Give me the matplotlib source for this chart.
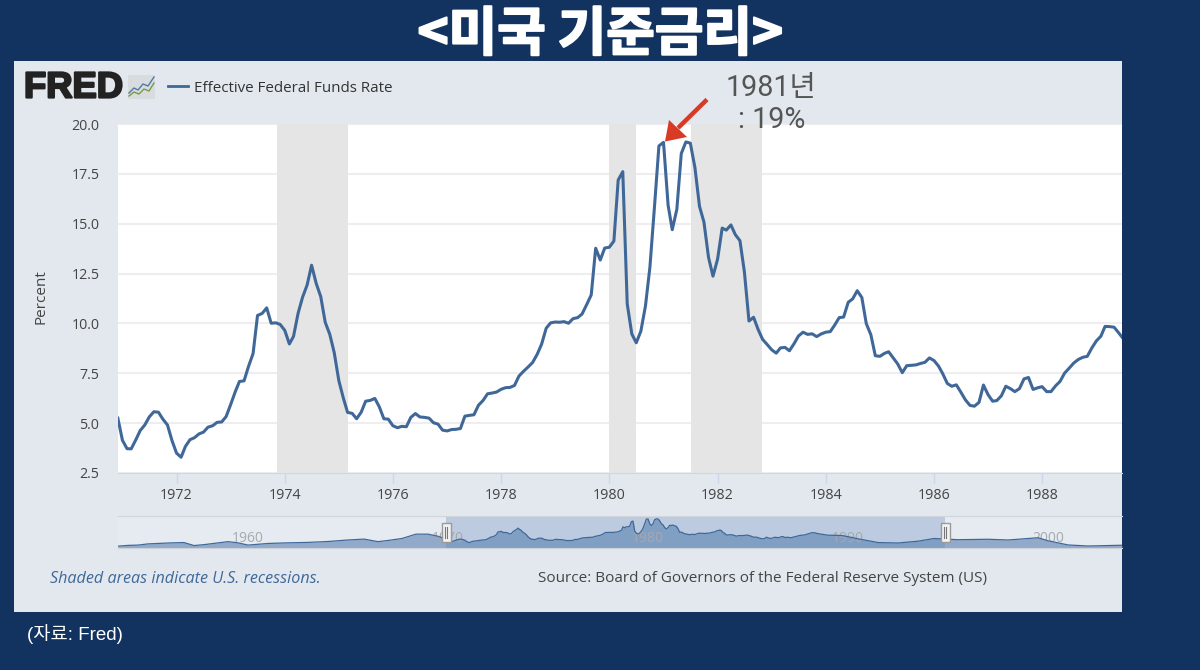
import matplotlib
matplotlib.use('Agg')
import matplotlib.pyplot as plt
import matplotlib.dates as mdates
import matplotlib.patheffects as pe
from matplotlib.patches import Polygon, Rectangle
import pandas as pd

W, H = 1200, 670

# monthly effective rate, Dec 1970 onwards
rate = [5.25,
        4.14, 3.72, 3.71, 4.16, 4.63, 4.91, 5.31, 5.57, 5.55, 5.20, 4.91, 4.14,
        3.50, 3.29, 3.83, 4.17, 4.27, 4.46, 4.55, 4.80, 4.87, 5.04, 5.06, 5.33,
        5.94, 6.58, 7.09, 7.12, 7.84, 8.49, 10.40, 10.50, 10.78, 10.01, 10.03, 9.95,
        9.65, 8.97, 9.35, 10.51, 11.31, 11.93, 12.92, 12.01, 11.34, 10.06, 9.45, 8.53,
        7.13, 6.24, 5.54, 5.49, 5.22, 5.55, 6.10, 6.14, 6.24, 5.82, 5.22, 5.20,
        4.87, 4.77, 4.84, 4.82, 5.29, 5.48, 5.31, 5.29, 5.25, 5.02, 4.95, 4.65,
        4.61, 4.68, 4.69, 4.73, 5.35, 5.39, 5.42, 5.90, 6.14, 6.47, 6.51, 6.56,
        6.70, 6.78, 6.79, 6.89, 7.36, 7.60, 7.81, 8.04, 8.45, 8.96, 9.76, 10.03,
        10.07, 10.06, 10.09, 10.01, 10.24, 10.29, 10.47, 10.94, 11.43, 13.77, 13.18, 13.78,
        13.82, 14.13, 17.19, 17.61, 10.98, 9.47, 9.03, 9.61, 10.87, 12.81, 15.85, 18.90,
        19.08, 15.93, 14.70, 15.72, 18.52, 19.10, 19.04, 17.82, 15.87, 15.08, 13.31, 12.37,
        13.22, 14.78, 14.68, 14.94, 14.45, 14.15, 12.59, 10.12, 10.31, 9.71, 9.20, 8.95,
        8.68, 8.51, 8.77, 8.80, 8.63, 8.98, 9.37, 9.56, 9.45, 9.48, 9.34, 9.47,
        9.56, 9.59, 9.91, 10.29, 10.32, 11.06, 11.23, 11.64, 11.30, 9.99, 9.43, 8.38,
        8.35, 8.50, 8.58, 8.27, 7.97, 7.53, 7.88, 7.90, 7.92, 7.99, 8.05, 8.27,
        8.14, 7.86, 7.48, 6.99, 6.85, 6.92, 6.56, 6.17, 5.89, 5.85, 6.04, 6.91,
        6.43, 6.10, 6.13, 6.37, 6.85, 6.73, 6.58, 6.73, 7.22, 7.29, 6.69, 6.77,
        6.83, 6.58, 6.58, 6.87, 7.09, 7.51, 7.75, 8.01, 8.19, 8.30, 8.35, 8.76,
        9.12, 9.36, 9.85, 9.84, 9.81, 9.53, 9.24]
dates = pd.date_range('1970-12-01', periods=len(rate), freq='MS')

recessions = [('1973-11-10', '1975-03-05'), ('1980-01-01', '1980-07-01'), ('1981-07-08', '1982-10-28')]
y_ticks = [2.5, 5.0, 7.5, 10.0, 12.5, 15.0, 17.5, 20.0]
x_tick_years = [1972, 1974, 1976, 1978, 1980, 1982, 1984, 1986, 1988]

# overview strip: estimates before and after the monthly stretch above
nav_years_before = [1954.5, 1955, 1955.5, 1956, 1957, 1957.8, 1958.3, 1958.8, 1959.5, 1960, 1960.5, 1961, 1962, 1963,
                    1964, 1965, 1966, 1966.8, 1967.5, 1968, 1968.7, 1969.4, 1970, 1970.5]
nav_rate_before = [0.9, 1.4, 1.6, 2.4, 3.0, 3.3, 1.3, 1.9, 3.1, 3.9, 3.1, 1.6, 2.7, 3.1,
                   3.4, 4.0, 5.0, 5.6, 3.9, 4.7, 6.0, 8.9, 8.9, 7.5]
nav_years_after = [1990, 1990.7, 1991.5, 1992.5, 1993.5, 1994.5, 1995.3, 1996.5, 1998, 1999, 2000.5, 2001, 2002, 2003, 2004.7]
nav_rate_after = [8.2, 8.0, 5.8, 3.3, 3.0, 4.2, 6.0, 5.2, 5.5, 5.0, 6.5, 4.5, 1.7, 1.0, 1.5]
nav_labels = [1960, 1970, 1980, 1990, 2000]

BG = '#12335f'
PANEL = '#e2e8ee'
LINE = '#3f6899'
KR = ['Noto Sans CJK KR', 'DejaVu Sans']


def px_axes(fig, left, top, right, bottom, **kw):
    return fig.add_axes([left / W, 1 - bottom / H, (right - left) / W, (bottom - top) / H], **kw)


fig = plt.figure(figsize=(W / 100., H / 100.), dpi=100, facecolor=BG)

# backdrop, pixel coordinates
back = px_axes(fig, 0, 0, W, H)
back.set_xlim(0, W)
back.set_ylim(H, 0)
back.axis('off')
back.add_patch(Rectangle((14, 61), 1108, 551, color=PANEL, lw=0))

# main chart
ax = px_axes(fig, 118, 124, 1122, 473, facecolor='white')
x0 = mdates.num2date(mdates.datestr2num('1972-01-01') - (176.5 - 118) / 54.1 * 365.25)
x1 = mdates.num2date(mdates.datestr2num('1972-01-01') + (1122 - 176.5) / 54.1 * 365.25)
ax.set_xlim(x0, x1)
ax.set_ylim(2.5, 20)
for s in ['top', 'left', 'right']:
    ax.spines[s].set_visible(False)
ax.spines['bottom'].set_color('#ccd6eb')
ax.set_axisbelow(True)
ax.yaxis.grid(True, color='#eeeef1', lw=1.5)
for start, end in recessions:
    ax.axvspan(pd.Timestamp(start), pd.Timestamp(end), color='#e5e5e5', lw=0, zorder=1.5)
ax.plot(dates, rate, color=LINE, lw=2.2, zorder=3)
ax.set_yticks(y_ticks)
ax.set_yticklabels(['%.1f' % v for v in y_ticks])
ax.set_xticks([pd.Timestamp('%d-01-01' % y) for y in x_tick_years])
ax.set_xticklabels([str(y) for y in x_tick_years])
ax.tick_params(axis='y', length=0, pad=13.5, labelsize=10.3, labelcolor='#444444')
ax.tick_params(axis='x', length=7, width=1, color='#ccd6eb', pad=3.5, labelsize=10.3, labelcolor='#444444')
for lab in ax.get_xticklabels() + ax.get_yticklabels():
    lab.set_family('Open Sans')

# overview strip
nav_x = nav_years_before + [d.year + (d.month - 1) / 12. for d in dates] + nav_years_after
nav_y = nav_rate_before + rate + nav_rate_after
nav = px_axes(fig, 118, 516, 1122, 547.5, facecolor='#e6ebf2')
nav.set_xlim(1954.5, 1954.5 + 1004 / 20.)
nav.set_ylim(0, 21)
for s in nav.spines.values():
    s.set_visible(False)
nav.spines['top'].set_visible(True)
nav.spines['top'].set_color('#d2d6da')
nav.spines['bottom'].set_visible(True)
nav.spines['bottom'].set_color('#ccd2da')
nav.set_xticks([])
nav.set_yticks([])
sel0 = 1954.5 + (446 - 118) / 20.
sel1 = 1954.5 + (945 - 118) / 20.
nav.axvspan(sel0, sel1, color='#bccbe0', lw=0, zorder=1)
nav.fill_between(nav_x, nav_y, 0, color='#5b80b0', alpha=0.6, lw=0, zorder=2)
nav.plot(nav_x, nav_y, color=LINE, lw=0.9, zorder=3)
for y in nav_labels:
    nav.text(y + 1, 6.0, str(y), ha='center', va='center', fontsize=10, color='#a6a9ad',
             family='Open Sans', zorder=2.5)

# everything drawn on top, pixel coordinates
top = px_axes(fig, 0, 0, W, H)
top.patch.set_alpha(0)
top.set_xlim(0, W)
top.set_ylim(H, 0)
top.axis('off')

for hx in [446, 945]:
    top.add_patch(Rectangle((hx - 4.5, 523), 9, 19, fc='#f2f2f2', ec='#9a9a9a', lw=1))
    top.plot([hx - 1.2, hx - 1.2], [527, 538], color='#777777', lw=0.8)
    top.plot([hx + 1.2, hx + 1.2], [527, 538], color='#777777', lw=0.8)

top.text(600, 35, '<미국 기준금리>', ha='center', va='center', color='white', fontsize=38,
         fontweight='bold', family=KR, path_effects=[pe.withStroke(linewidth=1.5, foreground='white')])
top.text(24, 88, 'FRED', ha='left', va='center', color='#222222', fontsize=26.2, fontweight='bold',
         family='Liberation Sans', path_effects=[pe.withStroke(linewidth=1.6, foreground='#222222')])

# logo icon
top.add_patch(Rectangle((128, 75), 27, 24, fc='#d9dcdf', ec='none'))
top.plot([129, 134, 138, 143, 148, 154], [93, 88, 90, 84, 86, 77], color='#4f7aa8', lw=1)
top.plot([129, 134, 139, 144, 149, 154], [96, 92, 94, 89, 91, 83], color='#7b9a45', lw=1)

top.plot([168, 188], [86, 86], color=LINE, lw=2)
top.text(194, 88, 'Effective Federal Funds Rate', ha='left', va='center', fontsize=10.9,
         color='#333333', family='Open Sans')
top.text(41, 297, 'Percent', ha='center', va='center', rotation=90, fontsize=11, color='#444444',
         family='Open Sans')
top.text(50, 579, 'Shaded areas indicate U.S. recessions.', ha='left', va='center', fontsize=11.6,
         color='#3f6899', style='italic', family='Open Sans')
top.text(987, 579, 'Source: Board of Governors of the Federal Reserve System (US)', ha='right', va='center',
         fontsize=10.95, color='#444444', family='Open Sans')
top.text(27, 634, '(자료: Fred)', ha='left', va='center', fontsize=13.5, color='white',
         family=['Liberation Sans', 'Noto Sans CJK KR'])

# note and red arrow on the screenshot
top.text(771.5, 88, '1981년', ha='center', va='center', fontsize=20.6, color='#555555',
         family=['Roboto', 'Noto Sans CJK KR'])
top.text(771.5, 120, ': 19%', ha='center', va='center', fontsize=20.6, color='#555555',
         family=['Roboto', 'Noto Sans CJK KR'])
top.add_patch(Polygon([(665, 141.5), (669, 120), (687, 137)], closed=True, fc='#d93a26', ec='none'))
top.plot([678, 707], [128, 99.5], color='#d93a26', lw=3.2, solid_capstyle='butt')

fig.savefig('out.png', dpi=100, facecolor=BG)
